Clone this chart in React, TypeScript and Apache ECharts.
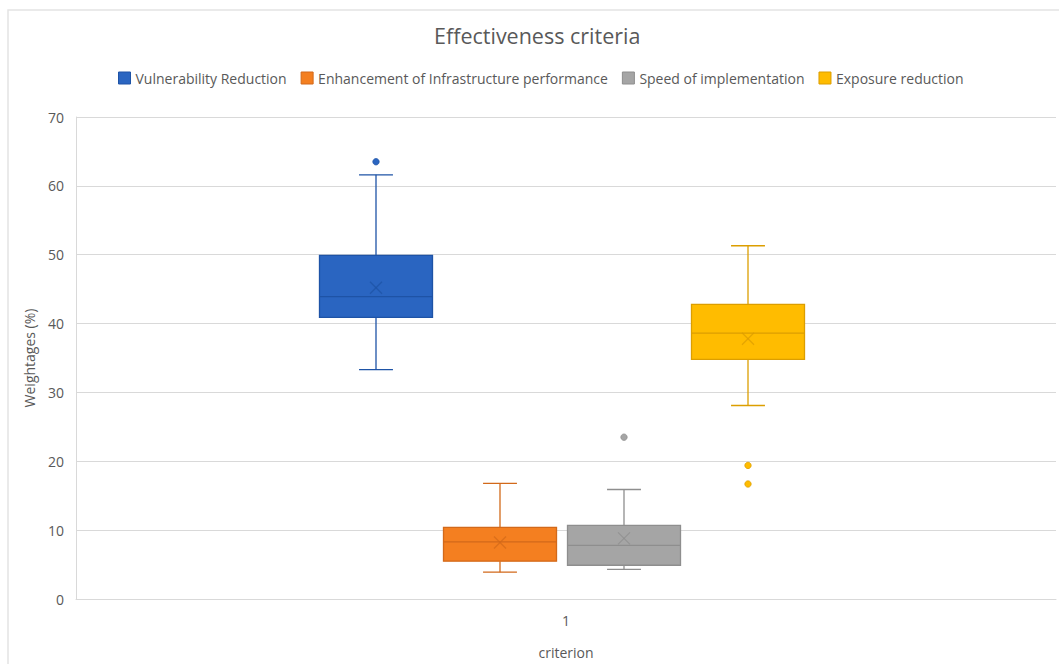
import React, { useEffect, useRef } from "react";
import * as echarts from "echarts";

// Box statistics per criterion: [lower whisker, Q1, median, Q3, upper whisker, mean]
const categories = ["1"];
const seriesNames = [
  "Vulnerability Reduction",
  "Enhancement of Infrastructure performance",
  "Speed of implementation",
  "Exposure reduction",
];
const vulnerabilityStats = [33.3, 40.9, 43.9, 49.9, 61.6, 45.2];
const infrastructureStats = [3.9, 5.5, 8.3, 10.4, 16.8, 8.2];
const speedStats = [4.3, 4.9, 7.8, 10.7, 15.9, 8.8];
const exposureStats = [28.1, 34.8, 38.6, 42.8, 51.3, 37.8];

const vulnerabilityOutliers = [63.5];
const infrastructureOutliers: number[] = [];
const speedOutliers = [23.5];
const exposureOutliers = [19.4, 16.7];

const yTicks = { min: 0, max: 70, interval: 10 };

const fills = ["#2A65C1", "#F47F20", "#A5A5A5", "#FFBC00"];
const strokes = ["#1E53A6", "#D2691A", "#8E8E8E", "#DC9E00"];

const statsList = [vulnerabilityStats, infrastructureStats, speedStats, exposureStats];
const outlierList = [vulnerabilityOutliers, infrastructureOutliers, speedOutliers, exposureOutliers];

// horizontal placement of each box, as a fraction of the category band
const boxWidthFrac = 113 / 980;
const boxStepFrac = 124 / 980;
const groupShiftFrac = -4 / 980;

function makeSeries(idx: number): any[] {
  const offsetFrac = (idx - 1.5) * boxStepFrac + groupShiftFrac;
  const stats = statsList[idx];
  const fill = fills[idx];
  const stroke = strokes[idx];
  const box = {
    type: "custom",
    name: seriesNames[idx],
    itemStyle: { color: fill },
    encode: { x: 0, y: [1, 2, 3, 4, 5, 6] },
    data: [[0, ...stats]],
    renderItem: (params: any, api: any) => {
      const band = api.size([1, 0])[0];
      const cx = api.coord([api.value(0), 0])[0] + offsetFrac * band;
      const w = boxWidthFrac * band;
      const capW = w * 0.3;
      const yLo = api.coord([0, api.value(1)])[1];
      const yQ1 = api.coord([0, api.value(2)])[1];
      const yMed = api.coord([0, api.value(3)])[1];
      const yQ3 = api.coord([0, api.value(4)])[1];
      const yHi = api.coord([0, api.value(5)])[1];
      const yMean = api.coord([0, api.value(6)])[1];
      const lineStyle = { stroke, lineWidth: 1.3, fill: "none" };
      const m = 6;
      return {
        type: "group",
        children: [
          { type: "line", shape: { x1: cx, y1: yHi, x2: cx, y2: yQ3 }, style: lineStyle },
          { type: "line", shape: { x1: cx, y1: yQ1, x2: cx, y2: yLo }, style: lineStyle },
          { type: "line", shape: { x1: cx - capW / 2, y1: yHi, x2: cx + capW / 2, y2: yHi }, style: lineStyle },
          { type: "line", shape: { x1: cx - capW / 2, y1: yLo, x2: cx + capW / 2, y2: yLo }, style: lineStyle },
          {
            type: "rect",
            shape: { x: cx - w / 2, y: yQ3, width: w, height: yQ1 - yQ3 },
            style: { fill, stroke, lineWidth: 1.3 },
          },
          { type: "line", shape: { x1: cx - w / 2, y1: yMed, x2: cx + w / 2, y2: yMed }, style: lineStyle },
          { type: "line", shape: { x1: cx - m, y1: yMean - m, x2: cx + m, y2: yMean + m }, style: { ...lineStyle, opacity: 0.75 } },
          { type: "line", shape: { x1: cx - m, y1: yMean + m, x2: cx + m, y2: yMean - m }, style: { ...lineStyle, opacity: 0.75 } },
        ],
      };
    },
  };
  const outliers = {
    type: "custom",
    name: seriesNames[idx],
    itemStyle: { color: fill },
    encode: { x: 0, y: 1 },
    data: outlierList[idx].map((v) => [0, v]),
    renderItem: (params: any, api: any) => {
      const band = api.size([1, 0])[0];
      const cx = api.coord([api.value(0), 0])[0] + offsetFrac * band;
      const cy = api.coord([0, api.value(1)])[1];
      return {
        type: "circle",
        shape: { cx, cy, r: 3.2 },
        style: { fill, stroke, lineWidth: 0.8 },
      };
    },
  };
  return [box, outliers];
}

export default function App() {
  const ref = useRef<HTMLDivElement>(null);
  useEffect(() => {
    if (!ref.current) return;
    const chart = echarts.init(ref.current, undefined, { renderer: "svg" });
    const font = "'Open Sans', 'Noto Sans', sans-serif";
    chart.setOption({
      animation: false,
      backgroundColor: "#ffffff",
      textStyle: { fontFamily: font },
      color: fills,
      title: {
        text: "Effectiveness criteria",
        left: 429,
        top: 19,
        textStyle: { fontFamily: font, fontSize: 21.5, fontWeight: "normal", color: "#595959" },
      },
      legend: {
        top: 66,
        left: 113,
        icon: "rect",
        itemWidth: 12,
        itemHeight: 12,
        itemGap: 14,
        data: seriesNames.map((n, i) => ({ name: n, itemStyle: { color: fills[i], borderColor: strokes[i], borderWidth: 1 } })),
        textStyle: { fontFamily: font, fontSize: 14, color: "#595959" },
      },
      graphic: [
        {
          type: "rect",
          shape: { x: 8, y: 10, width: 1080, height: 700 },
          style: { fill: "none", stroke: "#E4E4E4", lineWidth: 1.5 },
          silent: true,
        },
      ],
      grid: { left: 76, right: 3, top: 117, bottom: 64, containLabel: false },
      xAxis: {
        type: "category",
        data: categories,
        name: "criterion",
        nameLocation: "middle",
        nameGap: 46,
        nameTextStyle: { fontFamily: font, fontSize: 14, color: "#595959" },
        axisLine: { show: true, lineStyle: { color: "#D9D9D9" } },
        axisTick: { show: false },
        axisLabel: { color: "#595959", fontSize: 14, margin: 14, fontFamily: font },
        splitLine: { show: false },
      },
      yAxis: {
        type: "value",
        min: yTicks.min,
        max: yTicks.max,
        interval: yTicks.interval,
        name: "Weightages (%)",
        nameLocation: "middle",
        nameGap: 40,
        nameTextStyle: { fontFamily: font, fontSize: 14, color: "#595959" },
        axisLine: { show: true, lineStyle: { color: "#D9D9D9" } },
        axisTick: { show: false },
        axisLabel: { color: "#595959", fontSize: 14, margin: 12, fontFamily: font },
        splitLine: { show: true, lineStyle: { color: "#D9D9D9", width: 1 } },
      },
      series: [0, 1, 2, 3].flatMap((i) => makeSeries(i)),
    });
    return () => chart.dispose();
  }, []);
  return (
    <div
      ref={ref}
      style={{ position: "fixed", left: 0, top: 0, width: 1059, height: 664 }}
    />
  );
}
